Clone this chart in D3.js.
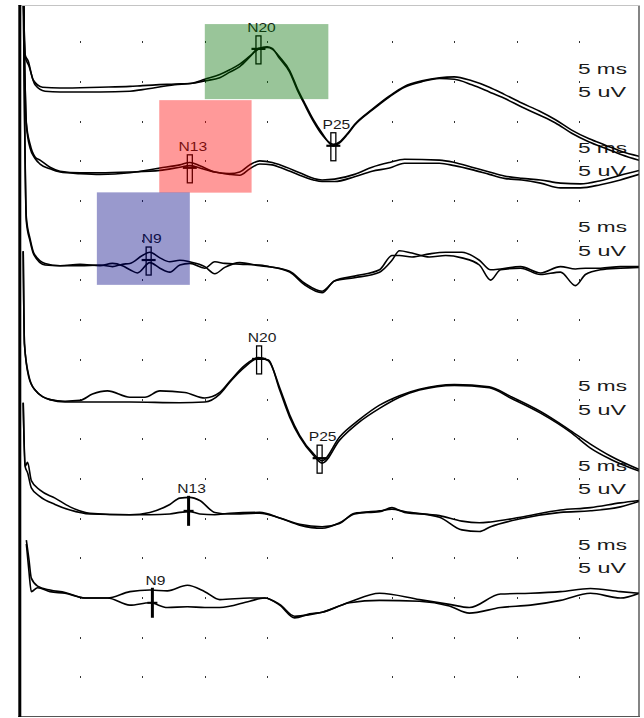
<!DOCTYPE html>
<html><head><meta charset="utf-8">
<script src="https://cdn.jsdelivr.net/npm/d3@7"></script>
<style>html,body{margin:0;padding:0;background:#fff;} svg{display:block;}</style>
</head><body><svg id="c" width="644" height="718"></svg>
<script>
// ---------------- DATA ----------------
// grid columns (ms) that carry dots, grid rows (divisions)
const gridTimes = [5, 10, 15, 20, 30, 35, 40, 45];
const gridRows = d3.range(1, 18);
const sweepMs = [0, 50];
const msLabel = "5 ms";
const uvLabel = "5 uV";

// traces: [time ms, amplitude uV] (two superimposed runs per channel)
const ch1a = [[0.45,14],[0.6,4.2],[0.85,3.4],[1.25,1.0],[2.0,0.1],[3.4,0.0],[6.6,0.1],[9.0,0.2],[10.0,0.3],[12.6,0.5],[14.0,0.6],[15.0,0.9],[16.2,1.3],[17.0,2.0],[17.8,2.7],[18.6,3.9],[19.3,5.0],[20.0,5.1],[20.4,4.9],[21.0,3.9],[21.8,2.2],[22.4,0.0],[23.0,-1.9],[23.7,-4.0],[24.4,-5.7],[25.3,-7.3],[25.8,-6.9],[26.4,-5.9],[27.0,-4.7],[28.4,-2.8],[29.8,-1.1],[31.0,0.1],[32.4,0.8],[33.8,1.2],[35.0,1.1],[36.4,0.4],[37.8,-0.5],[39.0,-1.3],[40.4,-2.4],[41.8,-3.4],[43.1,-4.4],[44.4,-5.7],[45.8,-6.8],[47.1,-7.6],[48.4,-8.4],[49.8,-9.1]];
const ch1b = [[0.45,14],[0.6,4.0],[0.9,2.8],[1.4,0.4],[2.2,-0.4],[3.4,-0.5],[6.6,-0.5],[9.0,-0.4],[10.0,-0.2],[12.6,0.4],[14.0,0.6],[15.0,1.1],[16.2,1.7],[17.0,2.3],[17.8,3.0],[18.6,4.0],[19.3,4.9],[20.0,5.2],[20.4,5.0],[21.0,3.7],[21.8,2.0],[22.4,-0.2],[23.0,-2.1],[23.7,-4.2],[24.4,-5.9],[25.3,-7.1],[25.8,-6.8],[26.4,-5.8],[27.0,-4.6],[28.4,-2.7],[29.8,-1.0],[31.0,0.2],[32.4,0.9],[33.8,1.3],[35.0,1.4],[36.4,0.9],[37.8,0.1],[39.0,-0.8],[40.4,-1.9],[41.8,-2.9],[43.1,-4.0],[44.4,-5.3],[45.8,-6.4],[47.1,-7.2],[48.4,-8.0],[49.8,-8.6]];

const ch2a = [[0.45,24],[0.7,6.2],[1.0,3.5],[1.4,1.9],[1.8,1.5],[2.6,0.6],[3.4,0.1],[5.0,-0.1],[6.6,-0.1],[9.0,0.0],[11.4,0.2],[13.0,0.6],[13.8,0.8],[14.6,0.5],[15.8,0.0],[17.0,-0.3],[17.8,-0.4],[18.6,0.4],[19.4,1.0],[20.4,0.9],[21.0,0.6],[22.6,-0.4],[23.7,-1.0],[24.4,-1.2],[25.4,-1.2],[27.0,-0.6],[28.4,0.1],[29.8,0.5],[31.0,1.1],[33.8,1.1],[35.0,0.8],[36.4,0.3],[37.8,-0.3],[39.0,-0.8],[40.4,-1.0],[41.9,-1.4],[43.5,-2.0],[45.1,-2.0],[46.7,-1.6],[48.3,-1.0],[49.8,-0.3]];
const ch2b = [[0.45,24],[0.7,6.0],[1.0,3.0],[1.4,1.7],[1.8,1.0],[2.6,0.4],[3.4,0.0],[5.0,-0.2],[6.6,-0.3],[9.0,-0.1],[11.4,0.5],[13.0,0.9],[13.8,1.2],[14.6,0.8],[15.8,0.0],[17.0,-0.2],[17.8,0.0],[18.6,0.9],[19.4,1.4],[20.4,1.2],[21.0,0.9],[22.6,-0.1],[23.7,-0.8],[24.4,-1.0],[25.4,-0.9],[27.0,-0.3],[28.4,0.6],[29.8,1.2],[31.0,1.6],[33.8,1.5],[35.0,1.2],[36.4,0.6],[37.8,0.0],[39.0,-0.5],[40.4,-0.8],[41.9,-1.0],[43.5,-1.4],[45.1,-1.5],[46.7,-1.1],[48.3,-0.4],[49.8,0.2]];

const ch3a = [[0.45,36],[0.7,6.0],[1.0,3.3],[1.3,1.5],[2.2,0.2],[3.4,-0.1],[5.0,-0.1],[6.6,0.0],[7.6,-0.2],[8.4,0.1],[9.0,0.2],[10.0,1.2],[10.6,1.6],[11.4,0.9],[12.2,0.4],[13.0,0.6],[13.8,0.4],[15.0,-0.2],[15.8,-1.1],[16.6,-0.3],[17.8,0.3],[19.4,-0.1],[20.1,-0.2],[21.8,-0.9],[23.0,-2.5],[24.4,-3.5],[25.4,-2.0],[27.0,-1.6],[29.0,-0.9],[30.0,0.6],[30.6,1.8],[31.6,1.5],[33.0,1.0],[34.3,1.2],[35.6,0.9],[37.0,0.0],[37.9,-1.9],[38.7,-0.6],[40.3,-0.4],[41.9,-1.2],[43.5,-0.9],[44.7,-2.6],[45.5,-1.2],[46.7,-0.6],[48.3,-0.4],[49.8,-0.3]];
const ch3b = [[0.45,36],[0.7,5.5],[1.0,3.0],[1.3,1.3],[2.2,0.0],[3.4,-0.1],[5.0,0.1],[6.6,-0.1],[7.6,0.2],[8.4,-0.1],[9.0,-0.6],[9.6,-1.0],[10.6,0.3],[11.4,-0.4],[12.2,-0.9],[13.0,0.0],[13.8,0.2],[15.0,-0.4],[15.8,0.4],[16.6,0.2],[17.8,0.1],[19.4,0.0],[20.1,-0.2],[21.8,-0.8],[23.0,-2.3],[24.4,-3.3],[25.4,-2.0],[27.0,-1.4],[29.0,-0.6],[30.0,1.2],[30.6,1.2],[31.6,1.0],[33.0,1.4],[34.3,1.6],[35.6,1.6],[37.0,0.6],[37.9,-0.6],[38.7,-0.5],[40.3,-0.2],[41.9,-1.0],[43.5,-0.2],[44.7,-0.5],[45.5,-0.4],[46.7,-0.4],[48.3,-0.2],[49.8,-0.2]];

const ch4a = [[0.45,19],[0.55,7.3],[0.9,3.1],[1.4,1.5],[2.6,0.3],[3.8,0.0],[5.0,0.0],[9.0,0.0],[13.0,-0.1],[15.0,0.0],[16.2,1.0],[17.0,2.5],[18.2,4.4],[19.3,5.5],[20.1,5.3],[21.0,1.5],[21.8,-1.9],[22.6,-4.4],[23.7,-6.7],[24.4,-7.7],[25.8,-4.8],[27.4,-2.5],[29.0,-0.8],[30.6,0.6],[32.2,1.5],[35.0,2.1],[37.8,1.8],[39.5,0.5],[41.9,-1.4],[44.3,-3.8],[45.9,-5.8],[47.5,-7.2],[49.8,-8.7]];
const ch4b = [[0.45,19],[0.55,7.3],[0.9,3.3],[1.4,1.5],[2.6,0.3],[3.8,0.1],[5.0,0.2],[6.0,1.0],[7.2,1.4],[9.0,0.6],[10.2,0.6],[11.4,1.4],[13.4,1.2],[15.0,0.5],[16.2,1.2],[17.0,2.6],[18.2,4.6],[19.3,5.6],[20.1,5.2],[21.0,1.8],[21.8,-1.6],[22.6,-4.2],[23.7,-6.5],[24.4,-7.4],[25.8,-4.4],[27.4,-2.2],[29.0,-0.4],[30.6,0.8],[32.2,1.6],[35.0,2.2],[37.8,1.9],[39.5,0.7],[41.9,-1.2],[44.3,-3.6],[45.9,-5.3],[47.5,-6.8],[49.8,-8.5]];

const ch5a = [[0.45,14],[0.6,6.0],[0.8,6.5],[1.1,4.2],[1.8,3.0],[3.0,2.0],[4.2,0.9],[5.8,0.1],[9.0,-0.1],[10.6,0.2],[12.2,1.2],[13.0,2.0],[13.8,2.1],[14.6,1.7],[15.8,0.2],[17.0,0.0],[19.4,0.1],[21.0,-0.5],[22.6,-1.3],[24.4,-1.6],[25.8,-1.2],[27.0,0.1],[29.0,0.3],[30.0,0.8],[31.0,0.2],[33.8,-0.2],[35.6,-0.9],[37.0,-1.1],[37.9,-1.0],[40.3,-0.4],[43.5,0.5],[45.9,0.8],[48.3,1.4],[49.8,1.7]];
const ch5b = [[0.45,14],[0.6,6.0],[0.8,5.2],[1.1,3.3],[1.8,2.2],[3.0,1.2],[4.2,0.5],[5.8,0.0],[9.0,-0.1],[10.6,-0.1],[12.2,0.0],[13.0,0.2],[13.8,0.3],[14.6,0.0],[15.8,-0.1],[17.0,0.1],[19.4,0.2],[21.0,-0.5],[22.6,-1.4],[24.4,-1.8],[25.8,-1.1],[27.0,0.0],[29.0,0.4],[30.0,0.6],[31.0,0.3],[33.8,-0.4],[35.6,-2.0],[37.0,-2.2],[37.9,-1.6],[40.3,-0.6],[43.5,0.2],[45.9,0.4],[48.3,0.9],[49.8,1.6]];

const ch6a = [[0.7,7.3],[0.9,5.0],[1.1,2.5],[1.6,1.5],[2.6,1.0],[3.8,0.7],[5.4,0.0],[7.2,0.0],[9.0,0.8],[10.6,1.0],[12.0,0.9],[13.6,1.6],[15.0,0.8],[16.2,-0.2],[18.6,0.0],[19.8,0.0],[21.0,-0.9],[22.2,-2.5],[23.4,-2.0],[24.4,-1.8],[26.6,-0.5],[29.0,0.6],[32.2,-0.2],[34.6,-0.8],[36.2,-1.2],[38.7,0.5],[41.1,0.6],[43.5,0.8],[45.9,1.2],[48.3,0.8],[49.8,0.6]];
const ch6b = [[0.7,6.8],[0.9,3.5],[1.1,0.8],[1.6,1.3],[2.6,0.8],[3.8,0.6],[5.4,0.0],[7.2,0.0],[9.0,-0.9],[10.6,-0.6],[12.0,-1.2],[13.6,-1.1],[15.0,-1.2],[16.2,-1.2],[18.6,-0.4],[19.8,0.0],[21.0,-0.8],[22.2,-2.3],[23.4,-2.1],[24.4,-1.8],[26.6,-0.6],[29.0,-0.3],[32.2,-0.4],[34.6,-1.0],[36.2,-1.9],[38.7,-1.2],[41.1,-0.9],[43.5,-0.3],[45.9,0.6],[48.3,0.0],[49.8,0.6]];

const channels = [[ch1a, ch1b], [ch2a, ch2b], [ch3a, ch3b], [ch4a, ch4b], [ch5a, ch5b], [ch6a, ch6b]];

// peak markers
const markerLabels   = ["N20", "P25", "N13", "N9", "N20", "P25", "N13", "N9"];
const markerChannels = [0, 0, 1, 2, 3, 3, 4, 5];
const markerTimes    = [19.3, 25.3, 13.8, 10.5, 19.35, 24.2, 13.7, 10.8];
const markerValues   = [4.8, -7.4, 0.4, 0.5, 5.3, -7.2, 0.4, -0.6];

// highlighted windows: channel, [t0,t1] ms, [v0,v1] uV
const highlightChannels = [0, 1, 2];
const highlightTimes = [[15.0, 24.9], [11.35, 18.75], [6.35, 13.8]];
const highlightValues = [[8.05, -1.4], [9.05, -2.6], [9.15, -2.5]];

// ---------------- LAYOUT ----------------
const baselinePx = [88, 172, 265, 402, 514, 598];
const labelSlots = [0, 1, 2, 4, 5, 6];
const pxPerUv = 39.7 / 5;
const highlightColors = ["rgb(0,110,0)", "rgb(255,0,0)", "rgb(0,0,130)"];

const svg = d3.select("#c");
const x = d3.scaleLinear().domain(sweepMs).range([17.6, 641.6]);
const yDiv = d3.scaleLinear().domain([0, 18]).range([2.5, 717.1]);
const yCh = baselinePx.map(b => d3.scaleLinear().domain([0, 1]).range([b, b - pxPerUv]));

svg.append("defs").append("clipPath").attr("id", "clip")
  .append("rect").attr("x", 18).attr("y", 6).attr("width", 621).attr("height", 710);

// grid dots
const dots = [];
gridTimes.forEach(t => gridRows.forEach(r => dots.push([t, r])));
svg.append("g").selectAll("rect").data(dots).join("rect")
  .attr("x", d => Math.round(x(d[0])) - 0.5)
  .attr("y", d => Math.round(yDiv(d[1])) - 1)
  .attr("width", 1.6).attr("height", 2.2)
  .attr("fill", "#333").attr("shape-rendering", "crispEdges");

// scale labels
const lab = svg.append("g").attr("font-family", "Liberation Sans, Arial, sans-serif")
  .attr("font-size", 15).attr("fill", "#1a1a1a");
labelSlots.forEach(k => {
  const yb = 73.5 + 79.4 * k;
  lab.append("text").attr("x", 578).attr("y", yb).attr("textLength", 49)
    .attr("lengthAdjust", "spacingAndGlyphs").text(msLabel);
  lab.append("text").attr("x", 578).attr("y", yb + 23.5).attr("textLength", 48)
    .attr("lengthAdjust", "spacingAndGlyphs").text(uvLabel);
});

// traces
const tr = svg.append("g").attr("clip-path", "url(#clip)");
channels.forEach((runs, ci) => {
  const line = d3.line().x(d => x(d[0])).y(d => yCh[ci](d[1])).curve(d3.curveMonotoneX);
  runs.forEach(run => {
    tr.append("path").attr("d", line(run)).attr("fill", "none")
      .attr("stroke", "#000").attr("stroke-width", 1.6).attr("stroke-linejoin", "round");
  });
});

// markers
const mk = svg.append("g");
markerLabels.forEach((lbl, i) => {
  const ci = markerChannels[i];
  const mx = x(markerTimes[i]);
  const my = yCh[ci](markerValues[i]);
  const solid = ci >= 4;
  if (solid) {
    mk.append("line").attr("x1", mx).attr("x2", mx).attr("y1", my - 15).attr("y2", my + 15)
      .attr("stroke", "#000").attr("stroke-width", 3);
    mk.append("line").attr("x1", mx - 5).attr("x2", mx + 5).attr("y1", my).attr("y2", my)
      .attr("stroke", "#000").attr("stroke-width", 2);
  } else {
    mk.append("line").attr("x1", mx - 7).attr("x2", mx + 7).attr("y1", my - 1).attr("y2", my - 1)
      .attr("stroke", "#000").attr("stroke-width", 2.2);
    mk.append("rect").attr("x", mx - 2.5).attr("y", my - 14).attr("width", 5).attr("height", 28)
      .attr("fill", "none").attr("stroke", "#000").attr("stroke-width", 1.3);
  }
  mk.append("text")
    .attr("transform", `translate(${mx + 3},${my - 18}) scale(1.25,1)`)
    .attr("text-anchor", "middle").attr("font-family", "Liberation Sans, Arial, sans-serif")
    .attr("font-size", 12.5).attr("fill", "#1a1a1a").text(lbl);
});

// highlight windows (translucent overlay)
highlightChannels.forEach((ci, i) => {
  const x0 = x(highlightTimes[i][0]), x1 = x(highlightTimes[i][1]);
  const y0 = yCh[ci](highlightValues[i][0]), y1 = yCh[ci](highlightValues[i][1]);
  svg.append("rect").attr("x", x0).attr("y", y0).attr("width", x1 - x0).attr("height", y1 - y0)
    .attr("fill", highlightColors[i]).attr("fill-opacity", 0.4);
});

// frame
svg.append("line").attr("x1", 18).attr("x2", 640).attr("y1", 5.5).attr("y2", 5.5)
  .attr("stroke", "#c4c4c4").attr("stroke-width", 1);
svg.append("line").attr("x1", 639).attr("x2", 639).attr("y1", 6).attr("y2", 717)
  .attr("stroke", "#333").attr("stroke-width", 1.2);
svg.append("line").attr("x1", 18).attr("x2", 640).attr("y1", 716.5).attr("y2", 716.5)
  .attr("stroke", "#555").attr("stroke-width", 1.2);
svg.append("line").attr("x1", 19.8).attr("x2", 19.8).attr("y1", 5).attr("y2", 717)
  .attr("stroke", "#000").attr("stroke-width", 3);
</script></body></html>
